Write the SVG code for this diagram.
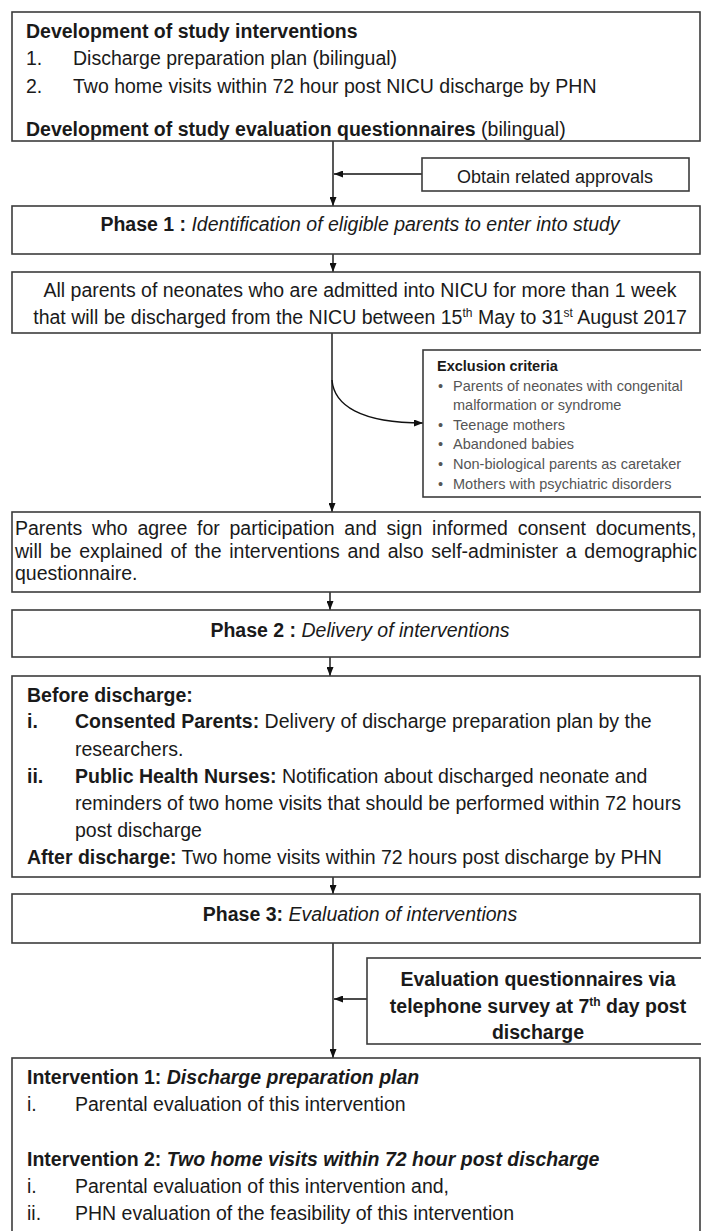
<svg xmlns="http://www.w3.org/2000/svg" width="701" height="1231" viewBox="0 0 701 1231">
<style>
.bg{fill:#fff}
.box{fill:#fff;stroke:#3c3c3c;stroke-width:1.6}
.t{font-family:"Liberation Sans",Arial,sans-serif;font-size:19.5px;fill:#1a1a1a}
.s{font-size:18px}
.x{font-size:14.5px}
.g{fill:#555}
.b{font-weight:bold}
.i{font-style:italic}
.c{text-anchor:middle}
.conn{stroke:#111;stroke-width:1.4;fill:none}
</style>
<defs>
<marker id="ah" viewBox="0 0 9 7" refX="9" refY="3.5" markerWidth="9" markerHeight="7" markerUnits="userSpaceOnUse" orient="auto">
<path d="M0,0 L9,3.5 L0,7 z" fill="#111"/>
</marker>
</defs>
<rect class="bg" x="0" y="0" width="701" height="1231"/>

<g id="connectors">
<path class="conn" d="M333,141 V206" marker-end="url(#ah)"/>
<path class="conn" d="M422,174 H334" marker-end="url(#ah)"/>
<path class="conn" d="M333,254 V272" marker-end="url(#ah)"/>
<path class="conn" d="M332,333 V512" marker-end="url(#ah)"/>
<path class="conn" d="M332,380 C334,405 360,423 423,423" marker-end="url(#ah)"/>
<path class="conn" d="M330,592 V610" marker-end="url(#ah)"/>
<path class="conn" d="M330,657 V676" marker-end="url(#ah)"/>
<path class="conn" d="M333,877 V894" marker-end="url(#ah)"/>
<path class="conn" d="M333,943 V1058" marker-end="url(#ah)"/>
<path class="conn" d="M367,999 H334" marker-end="url(#ah)"/>
</g>

<g id="development">
<rect class="box" x="12" y="12" width="688" height="129"/>
<text class="t b" x="26" y="38">Development of study interventions</text>
<text class="t" x="26" y="65">1.</text>
<text class="t" x="73" y="65">Discharge preparation plan (bilingual)</text>
<text class="t" x="26" y="93">2.</text>
<text class="t" x="73" y="93">Two home visits within 72 hour post NICU discharge by PHN</text>
<text class="t" x="26" y="136"><tspan class="b">Development of study evaluation questionnaires</tspan> (bilingual)</text>
</g>

<g id="approvals">
<rect class="box" x="422" y="158" width="267" height="33"/>
<text class="t s c" x="555" y="183">Obtain related approvals</text>
</g>

<g id="phase1">
<rect class="box" x="12" y="206" width="688" height="48"/>
<text class="t c" x="360" y="231"><tspan class="b">Phase 1 :</tspan> <tspan class="i">Identification of eligible parents to enter into study</tspan></text>
</g>

<g id="eligible">
<rect class="box" x="12" y="272" width="688" height="61"/>
<text class="t c" x="360" y="297">All parents of neonates who are admitted into NICU for more than 1 week</text>
<text class="t c" x="360" y="324">that will be discharged from the NICU between 15<tspan dy="-7" font-size="12">th</tspan><tspan dy="7"> May to 31</tspan><tspan dy="-7" font-size="12">st</tspan><tspan dy="7"> August 2017</tspan></text>
</g>

<g id="exclusion">
<rect class="box" x="423" y="350" width="290" height="147"/>
<text class="t x b" x="437" y="371">Exclusion criteria</text>
<g class="t x g">
<text x="438" y="391">•</text>
<text x="453" y="391">Parents of neonates with congenital</text>
<text x="453" y="410">malformation or syndrome</text>
<text x="438" y="430">•</text>
<text x="453" y="430">Teenage mothers</text>
<text x="438" y="449">•</text>
<text x="453" y="449">Abandoned  babies</text>
<text x="438" y="469">•</text>
<text x="453" y="469">Non-biological parents as caretaker</text>
<text x="438" y="489">•</text>
<text x="453" y="489">Mothers with psychiatric disorders</text>
</g>
</g>

<g id="consent">
<rect class="box" x="12" y="512" width="688" height="80"/>
<text class="t" x="15" y="535" word-spacing="4.3">Parents who agree for participation and sign informed consent documents,</text>
<text class="t" x="15" y="558" word-spacing="2.3">will be explained of the interventions and also self-administer a demographic</text>
<text class="t" x="15" y="580">questionnaire.</text>
</g>

<g id="phase2">
<rect class="box" x="12" y="610" width="688" height="47"/>
<text class="t c" x="360" y="637"><tspan class="b">Phase 2 :</tspan> <tspan class="i">Delivery of interventions</tspan></text>
</g>

<g id="delivery">
<rect class="box" x="12" y="676" width="688" height="201"/>
<text class="t b" x="27" y="702">Before discharge:</text>
<text class="t b" x="27" y="728">i.</text>
<text class="t" x="75" y="728"><tspan class="b">Consented Parents:</tspan> Delivery of discharge preparation plan by the</text>
<text class="t" x="75" y="756">researchers.</text>
<text class="t b" x="27" y="783">ii.</text>
<text class="t" x="75" y="783"><tspan class="b">Public Health Nurses:</tspan> Notification about discharged neonate and</text>
<text class="t" x="75" y="810">reminders of two home visits that should be performed within 72 hours</text>
<text class="t" x="75" y="837">post discharge</text>
<text class="t" x="27" y="864"><tspan class="b">After discharge:</tspan> Two home visits within 72 hours post discharge by PHN</text>
</g>

<g id="phase3">
<rect class="box" x="12" y="894" width="688" height="49"/>
<text class="t c" x="360" y="921"><tspan class="b">Phase 3:</tspan> <tspan class="i">Evaluation of interventions</tspan></text>
</g>

<g id="survey">
<rect class="box" x="367" y="958" width="346" height="86"/>
<text class="t b c" x="538" y="986">Evaluation questionnaires via</text>
<text class="t b c" x="538" y="1013">telephone survey at 7<tspan dy="-7" font-size="12">th</tspan><tspan dy="7"> day post</tspan></text>
<text class="t b c" x="538" y="1039">discharge</text>
</g>

<g id="evaluation">
<rect class="box" x="12" y="1058" width="688" height="185"/>
<text class="t b" x="27" y="1084">Intervention 1: <tspan class="i">Discharge preparation plan</tspan></text>
<text class="t" x="27" y="1111">i.</text>
<text class="t" x="75" y="1111">Parental evaluation of this intervention</text>
<text class="t b" x="27" y="1166">Intervention 2: <tspan class="i">Two home visits within 72 hour post discharge</tspan></text>
<text class="t" x="27" y="1193">i.</text>
<text class="t" x="75" y="1193">Parental evaluation of this intervention and,</text>
<text class="t" x="27" y="1220">ii.</text>
<text class="t" x="75" y="1220">PHN evaluation of the feasibility of this intervention</text>
</g>
</svg>
